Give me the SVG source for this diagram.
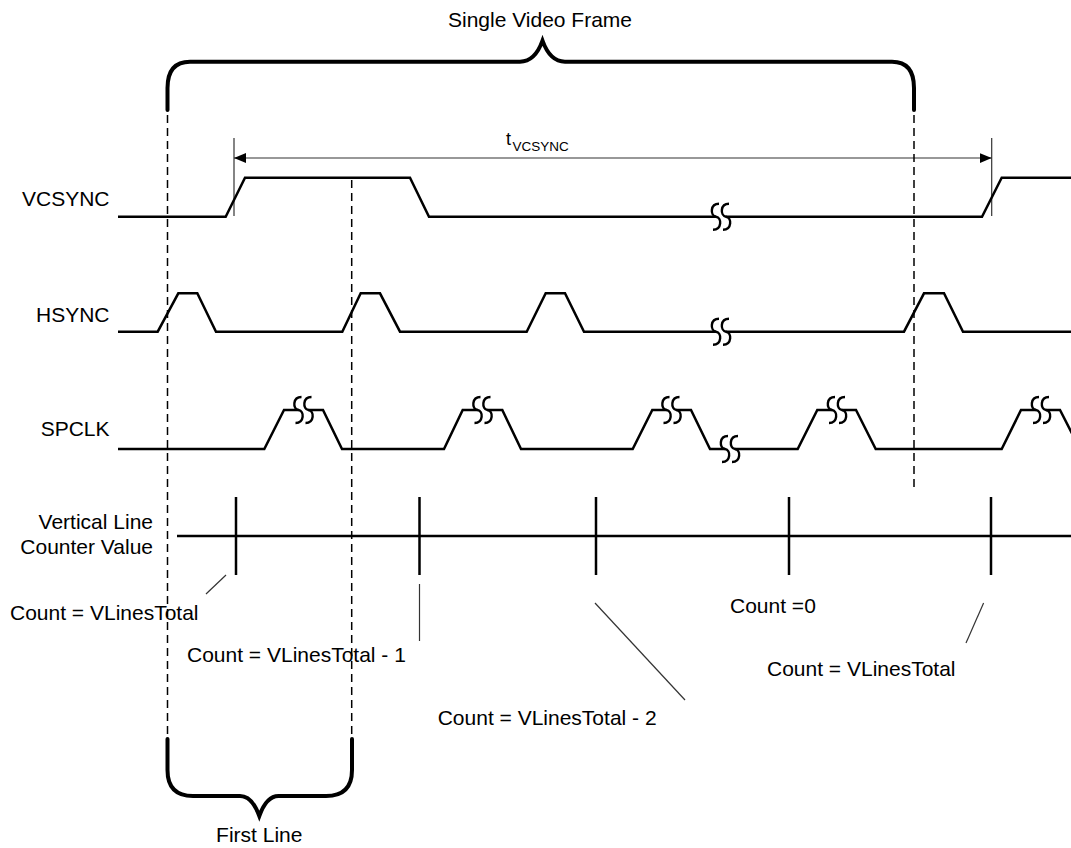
<svg xmlns="http://www.w3.org/2000/svg" width="1071" height="848" viewBox="0 0 1071 848">
<style>
text{font-family:"Liberation Sans",Arial,sans-serif;font-size:21px;fill:#000}
.sig{fill:none;stroke:#000;stroke-width:2.5;stroke-linejoin:miter}
.brk{fill:none;stroke:#000;stroke-width:2.4}
.brace{fill:none;stroke:#000;stroke-width:4;stroke-linecap:round}
.dash{fill:none;stroke:#000;stroke-width:1.5;stroke-dasharray:8 5}
.thin{fill:none;stroke:#333;stroke-width:1.2}
.tick{fill:none;stroke:#000;stroke-width:2.5}
</style>
<defs>
<marker id="ah" viewBox="0 0 12 10" refX="12" refY="5" markerWidth="12" markerHeight="10" markerUnits="userSpaceOnUse" orient="auto-start-reverse">
<path d="M0,0 L12,5 L0,10 Z" fill="#000"/>
</marker>
<path id="s2" d="M-2,-13 C-11,-13 -11,-1 -5,0 C1,1 1,13 -8,13 M8,-13 C-1,-13 -1,-1 5,0 C11,1 11,13 2,13"/>
</defs>

<g id="title">
<text x="540" y="27" text-anchor="middle">Single Video Frame</text>
<path class="brace" d="M167.5,110 V88 Q167.5,61.7 190,61.7 H520 Q535,61.7 542.5,40.7 Q550,61.7 565,61.7 H892 Q914,61.7 914,88 V110"/>
</g>

<g id="labels">
<text x="109.5" y="206" text-anchor="end">VCSYNC</text>
<text x="109.5" y="322" text-anchor="end">HSYNC</text>
<text x="109.5" y="436" text-anchor="end">SPCLK</text>
<text x="153" y="529" text-anchor="end">Vertical Line</text>
<text x="153" y="554" text-anchor="end">Counter Value</text>
</g>

<g id="tvcsync">
<line class="thin" x1="234" y1="138" x2="234" y2="216" stroke="#555"/>
<line class="thin" x1="991.7" y1="138" x2="991.7" y2="216" stroke="#555"/>
<line class="thin" x1="234" y1="158" x2="991.7" y2="158" marker-start="url(#ah)" marker-end="url(#ah)"/>
<text x="506" y="145" style="font-size:18px">t</text>
<text x="512.5" y="151" style="font-size:13.5px">VCSYNC</text>
</g>

<g id="vcsync">
<path class="sig" d="M118,216.7 H225.7 L245,177.7 H410 L429,216.7 H716"/>
<path class="sig" d="M726,216.7 H982 L1001.7,177.7 H1071"/>
<use href="#s2" class="brk" x="721" y="216.7"/>
</g>

<g id="hsync">
<path class="sig" d="M118,331.7 H157.7 L178.3,293.3 H197.3 L216,331.7 H342.3 L360.7,293.3 H380 L400,331.7 H526.7 L545.7,293.3 H565 L584,331.7 H716"/>
<path class="sig" d="M726,331.7 H904 L924,293.3 H944 L963,331.7 H1071"/>
<use href="#s2" class="brk" x="721" y="331.7"/>
</g>

<g id="spclk">
<path class="sig" d="M118,449 H264.3 L284,410 H298.5 M308.5,410 H323 L342,449 H444 L462.7,410 H477.5 M487.5,410 H502.3 L521,449 H632.7 L652.3,410 H666.5 M676.5,410 H691 L710,449 H725"/>
<path class="sig" d="M735,449 H797.7 L817.3,410 H832 M842,410 H856 L875.7,449 H1001.7 L1021,410 H1036 M1046,410 H1060 L1080,449"/>
<use href="#s2" class="brk" x="303.5" y="410"/>
<use href="#s2" class="brk" x="482.5" y="410"/>
<use href="#s2" class="brk" x="671.5" y="410"/>
<use href="#s2" class="brk" x="837" y="410"/>
<use href="#s2" class="brk" x="1041" y="410"/>
<use href="#s2" class="brk" x="730" y="449"/>
</g>

<g id="counter">
<line class="sig" x1="177" y1="536" x2="1071" y2="536"/>
<line class="tick" x1="236" y1="497" x2="236" y2="575"/>
<line class="tick" x1="419.5" y1="497" x2="419.5" y2="575"/>
<line class="tick" x1="596" y1="497" x2="596" y2="575"/>
<line class="tick" x1="789" y1="497" x2="789" y2="575"/>
<line class="tick" x1="991" y1="497" x2="991" y2="575"/>
</g>

<g id="connectors">
<line class="dash" x1="167.5" y1="115" x2="167.5" y2="737"/>
<line class="dash" x1="351.7" y1="180" x2="351.7" y2="737"/>
<line class="dash" x1="914" y1="115" x2="914" y2="488"/>
<line class="thin" x1="226" y1="575" x2="206" y2="594"/>
<line class="thin" x1="419.5" y1="584" x2="419.5" y2="641"/>
<line class="thin" x1="595" y1="603" x2="685" y2="700"/>
<line class="thin" x1="983.6" y1="603" x2="966" y2="643"/>
</g>

<g id="count-labels">
<text x="10" y="620">Count = VLinesTotal</text>
<text x="187" y="662">Count = VLinesTotal - 1</text>
<text x="437.7" y="725">Count = VLinesTotal - 2</text>
<text x="730" y="613">Count =0</text>
<text x="767" y="676">Count = VLinesTotal</text>
</g>

<g id="first-line">
<path class="brace" d="M167.5,739 V770 Q167.5,796 193,796 H240 Q252,796 259.3,816 Q266.5,796 278.5,796 H326 Q352,796 352,770 V739"/>
<text x="259.3" y="842" text-anchor="middle">First Line</text>
</g>
</svg>
